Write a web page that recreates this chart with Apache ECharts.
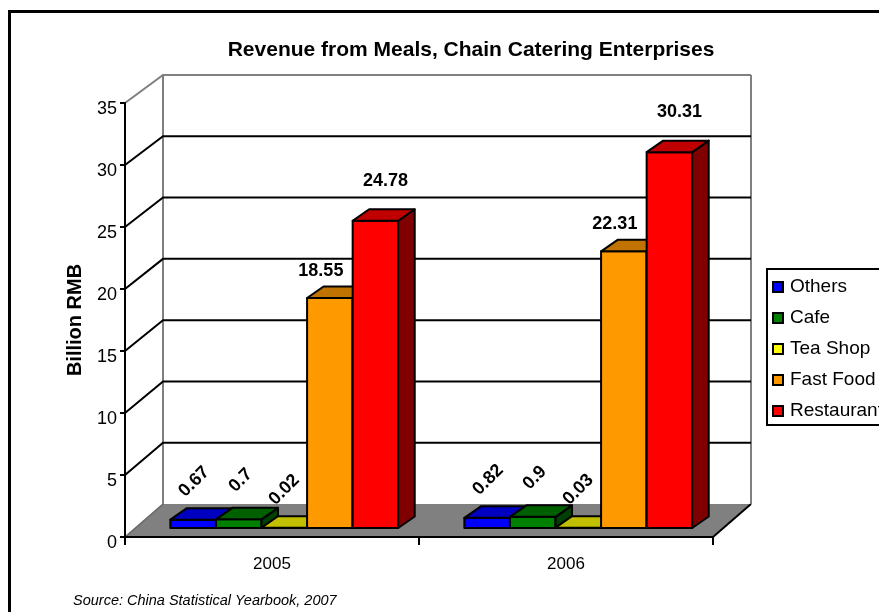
<!DOCTYPE html>
<html>
<head>
<meta charset="utf-8">
<title>Revenue from Meals, Chain Catering Enterprises</title>
<script src="https://cdn.jsdelivr.net/npm/echarts@6/dist/echarts.min.js"></script>
<style>
  html, body { margin: 0; padding: 0; background: #ffffff; }
  #main { width: 879px; height: 612px; }
</style>
</head>
<body>
<div id="main"></div>
<script>
// Revenue from meals by type of chain catering enterprise (billion RMB)
const years = ['2005', '2006'];
const others = [0.67, 0.82];
const cafe = [0.7, 0.9];
const teaShop = [0.02, 0.03];
const fastFood = [18.55, 22.31];
const restaurant = [24.78, 30.31];
const yTicks = [0, 5, 10, 15, 20, 25, 30, 35];

const FONT = '"Liberation Sans", Arial, Helvetica, sans-serif';

// pseudo-3D geometry (pixels): depth of the floor, of the bars, and where the bars sit
const FLOOR_DEPTH = [38, -33];
const TOP_SHRINK = 5;            // back wall is slightly shorter than the front plane
const BAR_OFFSET = [10.3, -9];
const BAR_DEPTH = [16.5, -11.5];
const BAR_FRACTION = 0.155;      // bar width as a share of the category band

const seriesDefs = [
  { name: 'Others',     values: others,     front: '#0000FF', top: '#0000C0', side: '#000080', labelShift: [1, -38] },
  { name: 'Cafe',       values: cafe,       front: '#008000', top: '#006000', side: '#004000', labelShift: [2, -39] },
  { name: 'Tea Shop',   values: teaShop,    front: '#FFFF00', top: '#C0C000', side: '#808000', labelShift: [0, -38] },
  { name: 'Fast Food',  values: fastFood,   front: '#FF9900', top: '#C07300', side: '#804D00', labelShift: [-9, -27] },
  { name: 'Restaurant', values: restaurant, front: '#FF0000', top: '#C00000', side: '#800000', labelShift: [10, -40] }
];

const yMin = yTicks[0];
const yMax = yTicks[yTicks.length - 1];
const yStep = yTicks[1] - yTicks[0];

// y position on the back wall for value v
function backY(api, v) {
  const y0 = api.coord([0, yMin])[1];
  const yTop = api.coord([0, yMax])[1];
  const yF = api.coord([0, v])[1];
  const k = (y0 - yTop - TOP_SHRINK) / (y0 - yTop);
  return y0 + FLOOR_DEPTH[1] + (yF - y0) * k;
}

function barBox(api, ci, v, k) {
  const band = api.size([1, 0])[0];
  const bw = band * BAR_FRACTION;
  const base = api.coord([ci, 0]);
  const yv = api.coord([ci, v])[1];
  const left = base[0] - 2.5 * bw + 2 + k * bw + BAR_OFFSET[0];
  return { left: left, right: left + bw, top: yv + BAR_OFFSET[1], bottom: base[1] + BAR_OFFSET[1] };
}

function makeBarRenderer(k) {
  const d = seriesDefs[k];
  return function (params, api) {
    const b = barBox(api, api.value(0), api.value(1), k);
    const dx = BAR_DEPTH[0], dy = BAR_DEPTH[1];
    const edge = { stroke: '#000', lineWidth: 2, lineJoin: 'round' };
    return {
      type: 'group',
      children: [
        { type: 'polygon', shape: { points: [[b.left, b.top], [b.right, b.top], [b.right, b.bottom], [b.left, b.bottom]] },
          style: Object.assign({ fill: d.front }, edge) },
        { type: 'polygon', shape: { points: [[b.right, b.top], [b.right + dx, b.top + dy], [b.right + dx, b.bottom + dy], [b.right, b.bottom]] },
          style: Object.assign({ fill: d.side }, edge) },
        { type: 'polygon', shape: { points: [[b.left, b.top], [b.right, b.top], [b.right + dx, b.top + dy], [b.left + dx, b.top + dy]] },
          style: Object.assign({ fill: d.top }, edge) }
      ]
    };
  };
}

// floor and wall outlines
function renderFloor(params, api) {
  const cs = params.coordSys;
  const y0 = api.coord([0, yMin])[1];
  const y0B = backY(api, yMin);
  const yTopB = backY(api, yMax);
  const xF = cs.x, xFR = cs.x + cs.width;
  const xB = xF + FLOOR_DEPTH[0], xBR = xFR + FLOOR_DEPTH[0];
  return {
    type: 'group',
    children: [
      { type: 'polygon', shape: { points: [[xF, y0], [xFR, y0], [xBR, y0B], [xB, y0B]] },
        style: { fill: '#808080', stroke: null } },
      { type: 'line', shape: { x1: xF, y1: y0, x2: xB, y2: y0B }, style: { stroke: '#666666', lineWidth: 1.5 } },
      { type: 'line', shape: { x1: xFR, y1: y0, x2: xBR, y2: y0B }, style: { stroke: '#000', lineWidth: 2 } },
      { type: 'line', shape: { x1: xB, y1: y0B, x2: xB, y2: yTopB }, style: { stroke: '#808080', lineWidth: 2 } },
      { type: 'line', shape: { x1: xBR, y1: y0B, x2: xBR, y2: yTopB }, style: { stroke: '#808080', lineWidth: 2 } }
    ]
  };
}

// gridlines: diagonal on the side wall, horizontal on the back wall
function renderGridLine(params, api) {
  const cs = params.coordSys;
  const v = api.value(1);
  const yF = api.coord([0, v])[1];
  const yB = backY(api, v);
  const xF = cs.x;
  const xB = xF + FLOOR_DEPTH[0], xBR = cs.x + cs.width + FLOOR_DEPTH[0];
  const color = v === yMax ? '#808080' : '#000';
  return {
    type: 'polyline',
    shape: { points: [[xF, yF], [xB, yB], [xBR, yB]] },
    style: { stroke: color, lineWidth: 2, fill: null }
  };
}

function renderLabel(params, api) {
  const ci = api.value(0), v = api.value(1), k = api.value(2);
  const b = barBox(api, ci, v, k);
  const sh = seriesDefs[k].labelShift;
  return {
    type: 'text',
    x: (b.left + b.right) / 2 + sh[0],
    y: b.top + sh[1],
    rotation: v < 5 ? Math.PI / 4 : 0,
    style: {
      text: String(v),
      fill: '#000',
      font: 'bold 18px ' + FONT,
      align: 'center',
      verticalAlign: 'middle'
    }
  };
}

const labelData = [];
seriesDefs.forEach(function (d, k) {
  d.values.forEach(function (v, ci) { labelData.push([ci, v, k]); });
});

const series = [
  { type: 'custom', name: 'floor', z: 1, silent: true, renderItem: renderFloor,
    data: [[0, 0]], encode: { x: 0, y: 1 } },
  { type: 'custom', name: 'gridlines', z: 1, silent: true, renderItem: renderGridLine,
    data: yTicks.filter(function (v) { return v > yMin; }).map(function (v) { return [0, v]; }),
    encode: { x: 0, y: 1 } }
];
seriesDefs.forEach(function (d, k) {
  series.push({
    type: 'custom',
    name: d.name,
    z: 4,
    silent: true,
    itemStyle: { color: d.front, borderColor: '#000', borderWidth: 2 },
    renderItem: makeBarRenderer(k),
    data: d.values.map(function (v, ci) { return [ci, v]; }),
    encode: { x: 0, y: 1 }
  });
});
series.push({
  type: 'custom', name: 'valueLabels', z: 6, silent: true, renderItem: renderLabel,
  data: labelData, encode: { x: 0, y: 1 }
});

const chart = echarts.init(document.getElementById('main'), null, { renderer: 'canvas' });
chart.setOption({
  animation: false,
  backgroundColor: '#ffffff',
  textStyle: { fontFamily: FONT },
  grid: { left: 125, right: 166, top: 103, bottom: 75 },
  xAxis: {
    type: 'category',
    data: years,
    z: 3,
    axisLine: { lineStyle: { color: '#000', width: 2 } },
    axisTick: { show: true, length: 8, lineStyle: { color: '#000', width: 2 } },
    axisLabel: { color: '#000', fontSize: 17, margin: 19, fontFamily: FONT },
    splitLine: { show: false }
  },
  yAxis: {
    type: 'value',
    min: yMin,
    max: yMax,
    interval: yStep,
    z: 3,
    name: 'Billion RMB',
    nameLocation: 'middle',
    nameGap: 40,
    nameRotate: 90,
    nameTextStyle: { color: '#000', fontSize: 20, fontWeight: 'bold', fontFamily: FONT },
    axisLine: { show: true, lineStyle: { color: '#000', width: 2 } },
    axisTick: { show: true, length: 5, lineStyle: { color: '#000', width: 2 } },
    axisLabel: { color: '#000', fontSize: 18, margin: 8, verticalAlign: 'top', lineHeight: 12, fontFamily: FONT },
    splitLine: { show: false }
  },
  legend: {
    data: seriesDefs.map(function (d) { return d.name; }),
    orient: 'vertical',
    left: 767,
    top: 269,
    padding: [8, 10, 4, 5],
    itemWidth: 10,
    itemHeight: 10,
    itemGap: 11,
    icon: 'rect',
    borderColor: '#000',
    borderWidth: 2,
    itemStyle: { borderColor: '#000', borderWidth: 2 },
    textStyle: { color: '#000', fontSize: 19, lineHeight: 20, padding: [0, 0, 0, 2], fontFamily: FONT },
    selectedMode: false
  },
  graphic: [
    { type: 'rect', silent: true, shape: { x: 9.5, y: 11.5, width: 1000, height: 1000 },
      style: { fill: null, stroke: '#000', lineWidth: 3 } },
    { type: 'text', silent: true, x: 471, y: 50,
      style: { text: 'Revenue from Meals, Chain Catering Enterprises', fill: '#000',
               font: 'bold 21px ' + FONT, align: 'center', verticalAlign: 'middle' } },
    { type: 'text', silent: true, x: 73, y: 601,
      style: { text: 'Source: China Statistical Yearbook, 2007', fill: '#000',
               font: 'italic 14.5px ' + FONT, align: 'left', verticalAlign: 'middle' } }
  ],
  series: series
});
</script>
</body>
</html>
